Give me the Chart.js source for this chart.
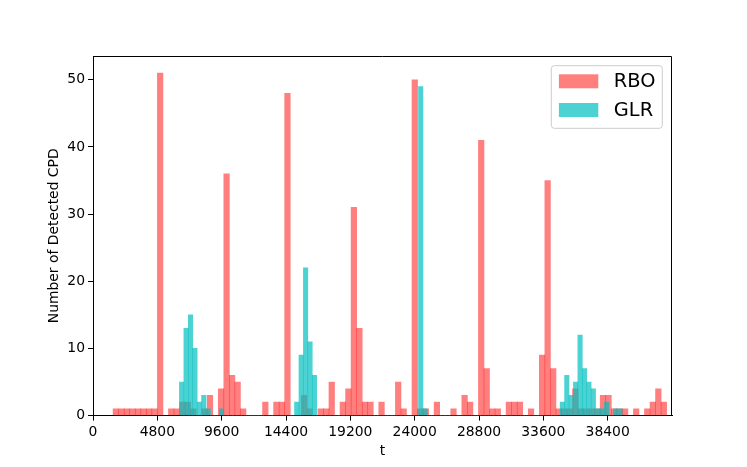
<!DOCTYPE html>
<html>
<head>
<meta charset="utf-8">
<script src="https://cdn.jsdelivr.net/npm/chart.js@4.4.0/dist/chart.umd.min.js"></script>
<style>
  html, body { margin: 0; padding: 0; background: #fff; }
  #wrap { width: 747px; height: 467px; }
</style>
</head>
<body>
<div id="wrap"><canvas id="chart" width="747" height="467"></canvas></div>
<script>
// histogram bins (100 per series, different ranges)
const rboBinStart = 1500, rboBinWidth = 413;
const glrBinStart = 6450, glrBinWidth = 330.3;

const rboCounts = [
    1, 1, 1, 1, 1, 1, 1, 1, 51, 0,
    1, 1, 2, 2, 1, 0, 1, 3, 0, 4,
    36, 6, 5, 1, 0, 0, 0, 2, 0, 2,
    2, 48, 0, 0, 3, 1, 0, 1, 1, 5,
    0, 2, 4, 31, 13, 2, 2, 0, 2, 0,
    0, 5, 1, 0, 50, 1, 1, 0, 2, 0,
    0, 1, 0, 3, 2, 0, 41, 7, 1, 1,
    0, 2, 2, 2, 0, 1, 0, 9, 35, 7,
    1, 1, 1, 4, 1, 1, 1, 1, 3, 3,
    1, 1, 1, 0, 1, 0, 1, 2, 4, 2
];
const glrCounts = [
    5, 13, 15, 10, 2, 3, 1, 0, 0, 1,
    0, 0, 0, 0, 0, 0, 0, 0, 0, 0,
    0, 0, 0, 0, 0, 0, 2, 9, 22, 11,
    6, 0, 0, 0, 0, 0, 0, 0, 0, 0,
    0, 0, 0, 0, 0, 0, 0, 0, 0, 0,
    0, 0, 0, 0, 49, 1, 0, 0, 0, 0,
    0, 0, 0, 0, 0, 0, 0, 0, 0, 0,
    0, 0, 0, 0, 0, 0, 0, 0, 0, 0,
    0, 0, 0, 0, 0, 0, 2, 6, 3, 5,
    12, 7, 5, 4, 1, 1, 2, 0, 1, 1
];

const xTickValues = [0, 4800, 9600, 14400, 19200, 24000, 28800, 33600, 38400];
const yTickValues = [0, 10, 20, 30, 40, 50];
const xMax = 43200;
const yMax = 53.55;

function toPoints(counts, start, width) {
    return counts.map((c, i) => ({ x: start + width * (i + 0.5), y: c }));
}

const tickFont = { family: 'DejaVu Sans', size: 13.9 };

// matplotlib style box legend inside the axes + top/right spines
const boxLegend = {
    id: 'boxLegend',
    afterDraw(chart) {
        const ctx = chart.ctx;
        const a = chart.chartArea;
        const fs = 19.4;
        const w = 111, h = 62.6;
        const x0 = a.right - 9.7 - w, y0 = a.top + 9.7;
        ctx.save();
        ctx.strokeStyle = '#000';
        ctx.lineWidth = 1;
        const t = Math.round(a.top) + 0.5, r = Math.round(a.right) - 0.5;
        ctx.beginPath();
        ctx.moveTo(Math.round(a.left), t);
        ctx.lineTo(r, t);
        ctx.lineTo(r, Math.round(a.bottom));
        ctx.stroke();
        ctx.beginPath();
        ctx.roundRect(x0, y0, w, h, 3);
        ctx.fillStyle = 'rgba(255,255,255,0.8)';
        ctx.fill();
        ctx.strokeStyle = '#cccccc';
        ctx.stroke();
        chart.data.datasets.forEach((ds, k) => {
            const cy = y0 + 15.6 + k * 28.7;
            ctx.fillStyle = ds.backgroundColor;
            ctx.fillRect(x0 + 7.6, cy - 7, 39.4, 14);
            ctx.fillStyle = '#000';
            ctx.font = fs + 'px "DejaVu Sans"';
            ctx.textBaseline = 'middle';
            ctx.textAlign = 'left';
            ctx.fillText(ds.label, x0 + 62.5, cy + 1);
        });
        ctx.restore();
    }
};

new Chart(document.getElementById('chart').getContext('2d'), {
    type: 'bar',
    data: {
        datasets: [{
            label: 'RBO',
            data: toPoints(rboCounts, rboBinStart, rboBinWidth),
            backgroundColor: 'rgba(255, 0, 0, 0.5)',
            borderWidth: 0,
            barPercentage: 1,
            categoryPercentage: 1,
            grouped: false,
            xAxisID: 'x',
            order: 2
        }, {
            label: 'GLR',
            data: toPoints(glrCounts, glrBinStart, glrBinWidth),
            backgroundColor: 'rgba(0, 191, 191, 0.7)',
            borderWidth: 0,
            barPercentage: 1,
            categoryPercentage: 1,
            grouped: false,
            xAxisID: 'x2',
            order: 1
        }]
    },
    options: {
        responsive: false,
        animation: false,
        devicePixelRatio: 1,
        layout: { padding: { left: 0, right: 75, top: 56, bottom: 0 } },
        plugins: {
            legend: { display: false },
            tooltip: { enabled: false }
        },
        scales: {
            x: {
                type: 'linear',
                min: 0,
                max: xMax,
                offset: false,
                afterBuildTicks: function(scale) {
                    scale.ticks = xTickValues.map(v => ({ value: v }));
                },
                afterFit: function(scale) { scale.height = 51.4; },
                ticks: {
                    color: '#000',
                    font: tickFont,
                    padding: 3,
                    maxRotation: 0,
                    autoSkip: false,
                    callback: v => String(v)
                },
                grid: {
                    offset: false,
                    drawOnChartArea: false,
                    drawTicks: true,
                    tickLength: 5,
                    color: '#000'
                },
                border: { color: '#000', width: 1 },
                title: {
                    display: true,
                    text: 't',
                    color: '#000',
                    font: tickFont,
                    padding: { top: 0, bottom: 7 }
                }
            },
            x2: {
                type: 'linear',
                display: false,
                min: 0,
                max: xMax,
                offset: false
            },
            y: {
                min: 0,
                max: yMax,
                afterBuildTicks: function(scale) {
                    scale.ticks = yTickValues.map(v => ({ value: v }));
                },
                afterFit: function(scale) { scale.width = 93; },
                ticks: {
                    color: '#000',
                    font: tickFont,
                    padding: 3
                },
                grid: {
                    drawOnChartArea: false,
                    drawTicks: true,
                    tickLength: 5,
                    color: '#000'
                },
                border: { color: '#000', width: 1 },
                title: {
                    display: true,
                    text: 'Number of Detected CPD',
                    color: '#000',
                    font: tickFont,
                    padding: { top: 46, bottom: 0 }
                }
            }
        }
    },
    plugins: [boxLegend]
});
</script>
</body>
</html>
